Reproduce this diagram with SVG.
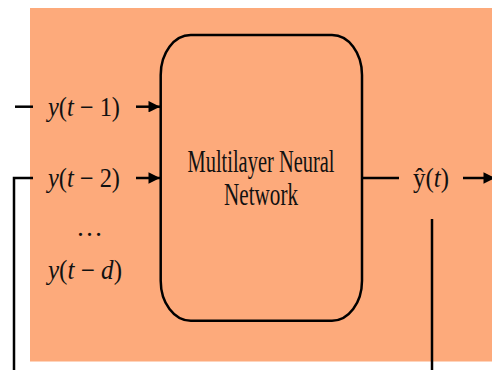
<svg xmlns="http://www.w3.org/2000/svg" width="492" height="370" viewBox="0 0 492 370">
  <style>
    .ln { stroke: #000; stroke-width: 2.5; fill: none; }
    .math { font-family: "Liberation Serif", "DejaVu Serif", serif; font-size: 27px; fill: #111; }
    .it { font-style: italic; }
    .lbl { font-family: "Liberation Serif", "DejaVu Serif", serif; font-size: 31px; fill: #111; text-anchor: middle; }
  </style>
  <defs>
    <marker id="head" viewBox="0 0 10 10" refX="10" refY="5" markerWidth="5" markerHeight="4.6" markerUnits="strokeWidth" orient="auto">
      <path d="M0,0 L10,5 L0,10 Z" fill="#000"/>
    </marker>
  </defs>

  <!-- panel -->
  <rect x="30" y="8" width="462" height="353.5" fill="#FDAA7B"/>

  <!-- network block -->
  <g id="network">
    <rect x="160.7" y="35" width="201.3" height="285.7" rx="30" ry="40" fill="none" stroke="#000" stroke-width="2.5"/>
    <text class="lbl" x="261" y="172" textLength="147" lengthAdjust="spacingAndGlyphs">Multilayer Neural</text>
    <text class="lbl" x="261" y="205" textLength="74" lengthAdjust="spacingAndGlyphs">Network</text>
  </g>

  <!-- input labels -->
  <g id="in1">
    <text class="math" x="48" y="116" textLength="72" lengthAdjust="spacingAndGlyphs"><tspan class="it">y</tspan>(<tspan class="it">t</tspan> − 1)</text>
  </g>
  <g id="in2">
    <text class="math" x="48" y="187" textLength="72" lengthAdjust="spacingAndGlyphs"><tspan class="it">y</tspan>(<tspan class="it">t</tspan> − 2)</text>
  </g>
  <g id="dots">
    <text class="math" x="76" y="236">…</text>
  </g>
  <g id="ind">
    <text class="math" x="48" y="279" textLength="74" lengthAdjust="spacingAndGlyphs"><tspan class="it">y</tspan>(<tspan class="it">t</tspan> − <tspan class="it">d</tspan>)</text>
  </g>

  <!-- output label -->
  <g id="out">
    <text class="math" x="413" y="187" textLength="36" lengthAdjust="spacingAndGlyphs">ŷ(<tspan class="it">t</tspan>)</text>
  </g>

  <!-- connectors -->
  <g id="connectors">
    <line class="ln" x1="15" y1="106.7" x2="33" y2="106.7"/>
    <polyline class="ln" points="14,370 14,178 33,178"/>
    <line class="ln" x1="136" y1="106.7" x2="160" y2="106.7" marker-end="url(#head)"/>
    <line class="ln" x1="136" y1="178" x2="160" y2="178" marker-end="url(#head)"/>
    <line class="ln" x1="362" y1="178" x2="399" y2="178"/>
    <line class="ln" x1="463" y1="178" x2="495" y2="178" marker-end="url(#head)"/>
    <line class="ln" x1="432" y1="219" x2="432" y2="370"/>
  </g>
</svg>
